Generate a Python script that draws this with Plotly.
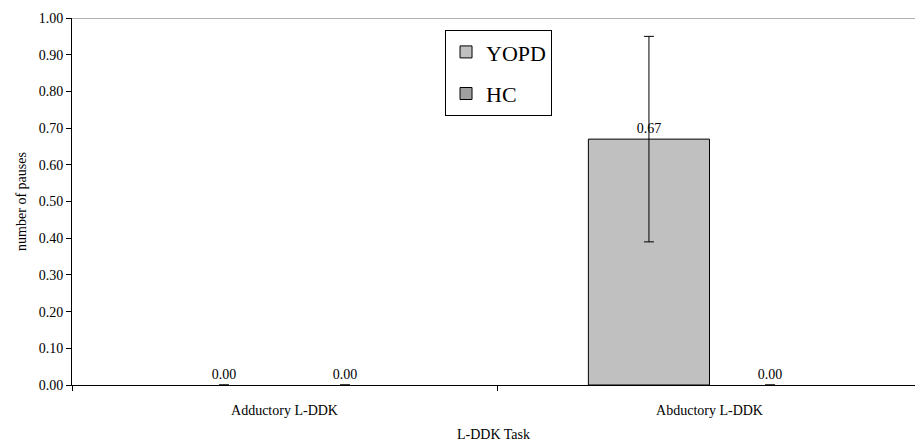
import plotly.graph_objects as go

categories = ["Adductory L-DDK", "Abductory L-DDK"]
yopd = [0.00, 0.67]
yopd_err = [0.00, 0.28]
hc = [0.00, 0.00]
hc_err = [0.00, 0.00]
y_ticks = [0.0, 0.1, 0.2, 0.3, 0.4, 0.5, 0.6, 0.7, 0.8, 0.9, 1.0]
boundaries = [-0.5, 0.5, 1.5]

font_family = "Liberation Serif"
colors = {"YOPD": "#C0C0C0", "HC": "#A0A0A0"}


def outline(vals):
    return [1 if v > 0 else 0 for v in vals]


fig = go.Figure()
for name, vals, errs in [("YOPD", yopd, yopd_err), ("HC", hc, hc_err)]:
    fig.add_trace(go.Bar(
        name=name, x=categories, y=vals,
        error_y=dict(type="data", array=errs, visible=True, color="black", thickness=1, width=5),
        marker=dict(color=colors[name], line=dict(color="black", width=outline(vals))),
        text=[f"{v:.2f}" for v in vals], textposition="outside",
        textfont=dict(family=font_family, size=14, color="black"),
        cliponaxis=False, showlegend=False, offsetgroup=name,
    ))
for name in ["YOPD", "HC"]:
    fig.add_trace(go.Bar(
        name=name, x=categories, y=[None, None],
        marker=dict(color=colors[name], line=dict(color="black", width=1)),
        showlegend=True, legendgroup=name, offsetgroup=name,
    ))

fig.add_shape(type="line", xref="paper", yref="y", x0=0, x1=1, y0=1.0, y1=1.0,
              line=dict(color="#999999", width=1.5))

fig.update_layout(
    width=915, height=445,
    margin=dict(l=72, r=0, t=18, b=60),
    barmode="group", bargap=0.43, bargroupgap=0,
    plot_bgcolor="white", paper_bgcolor="white",
    font=dict(family=font_family, color="black", size=14),
    legend=dict(x=0.4425, y=0.967, xanchor="left", yanchor="top",
                bordercolor="black", borderwidth=1, bgcolor="white",
                font=dict(family=font_family, size=22, color="black"),
                tracegroupgap=10, traceorder="grouped", itemwidth=30),
    xaxis=dict(type="category", range=[-0.5, 1.4835], ticks="",
               showline=True, linecolor="black", linewidth=1,
               ticklabelstandoff=12,
               title=dict(text="L-DDK Task", font=dict(family=font_family, size=14), standoff=12),
               tickfont=dict(family=font_family, size=14)),
    xaxis2=dict(overlaying="x", anchor="y", side="bottom", range=[-0.5, 1.4835],
                tickvals=boundaries, showticklabels=False, ticks="outside",
                ticklen=5, tickcolor="black", tickwidth=1, showgrid=False, zeroline=False,
                showline=False),
    yaxis=dict(range=[0, 1.0], tickvals=y_ticks, tickformat=".2f",
               ticks="outside", ticklen=5, tickcolor="black",
               showline=True, linecolor="black", linewidth=1, showgrid=False,
               zeroline=False,
               title=dict(text="number of pauses", font=dict(family=font_family, size=14), standoff=8),
               tickfont=dict(family=font_family, size=14)),
)
fig.add_trace(go.Scatter(x=[None], y=[None], xaxis="x2", showlegend=False, hoverinfo="skip"))

fig.write_html("out.html")
